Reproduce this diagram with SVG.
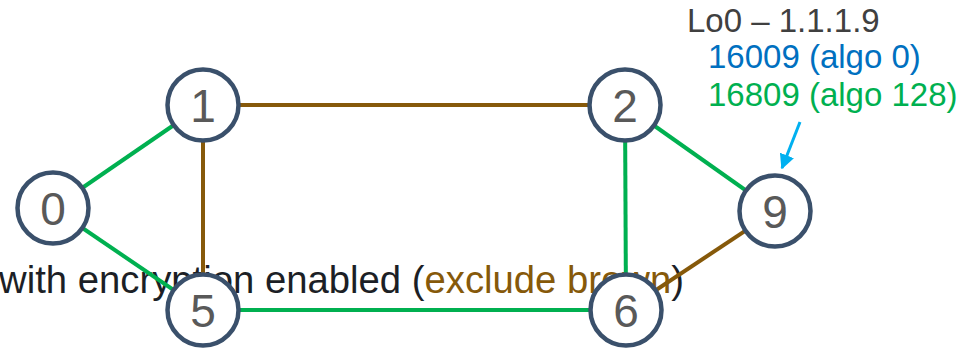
<svg xmlns="http://www.w3.org/2000/svg" width="969" height="350" viewBox="0 0 969 350">
<style>
.edge{stroke-width:4;fill:none}
.g{stroke:#00B050}
.b{stroke:#86590A}
.node circle{fill:#fff;stroke:#3A506B;stroke-width:4.5}
.node text{font-family:"Liberation Sans",Arial,sans-serif;font-size:46px;fill:#595959;text-anchor:middle}
.lbl{font-family:"Liberation Sans",Arial,sans-serif;font-size:33px}
</style>
<defs>
<marker id="ah" viewBox="0 0 10 10" refX="9" refY="5" markerWidth="5" markerHeight="5" orient="auto" markerUnits="strokeWidth">
<path d="M0,0 L10,5 L0,10 z" fill="#00B0F0"/>
</marker>
</defs>
<text x="-1" y="293" font-family="Liberation Sans, Arial, sans-serif" font-size="38" fill="#1C1F26" textLength="685" lengthAdjust="spacingAndGlyphs">with encryption enabled (<tspan fill="#86590A">exclude brown</tspan>)</text>
<g id="connectors">
<line class="edge g" x1="53" y1="208" x2="203" y2="105"/>
<line class="edge g" x1="53" y1="208" x2="203" y2="310"/>
<line class="edge b" x1="203" y1="105" x2="625" y2="105"/>
<line class="edge b" x1="203" y1="105" x2="203" y2="310"/>
<line class="edge g" x1="625" y1="105" x2="626" y2="310"/>
<line class="edge g" x1="625" y1="105" x2="775" y2="211"/>
<line class="edge g" x1="203" y1="310" x2="626" y2="310"/>
<line class="edge b" x1="626" y1="310" x2="775" y2="211"/>
<line x1="800" y1="122" x2="782" y2="168" stroke="#00B0F0" stroke-width="3" marker-end="url(#ah)"/>
</g>
<g id="node0" class="node"><circle cx="53" cy="208" r="35.5"/><text x="53" y="225">0</text></g>
<g id="node1" class="node"><circle cx="203" cy="105" r="35.5"/><text x="203" y="122">1</text></g>
<g id="node2" class="node"><circle cx="625" cy="105" r="35.5"/><text x="625" y="122">2</text></g>
<g id="node9" class="node"><circle cx="775" cy="211" r="35.5"/><text x="775" y="228">9</text></g>
<g id="node5" class="node"><circle cx="203" cy="310" r="35.5"/><text x="203" y="327">5</text></g>
<g id="node6" class="node"><circle cx="626" cy="310" r="35.5"/><text x="626" y="327">6</text></g>
<g id="label9">
<text class="lbl" x="687" y="32" fill="#404040">Lo0 – 1.1.1.9</text>
<text class="lbl" x="708" y="68" fill="#0070C0">16009 (algo 0)</text>
<text class="lbl" x="708" y="106" fill="#00B050">16809 (algo 128)</text>
</g>
</svg>
